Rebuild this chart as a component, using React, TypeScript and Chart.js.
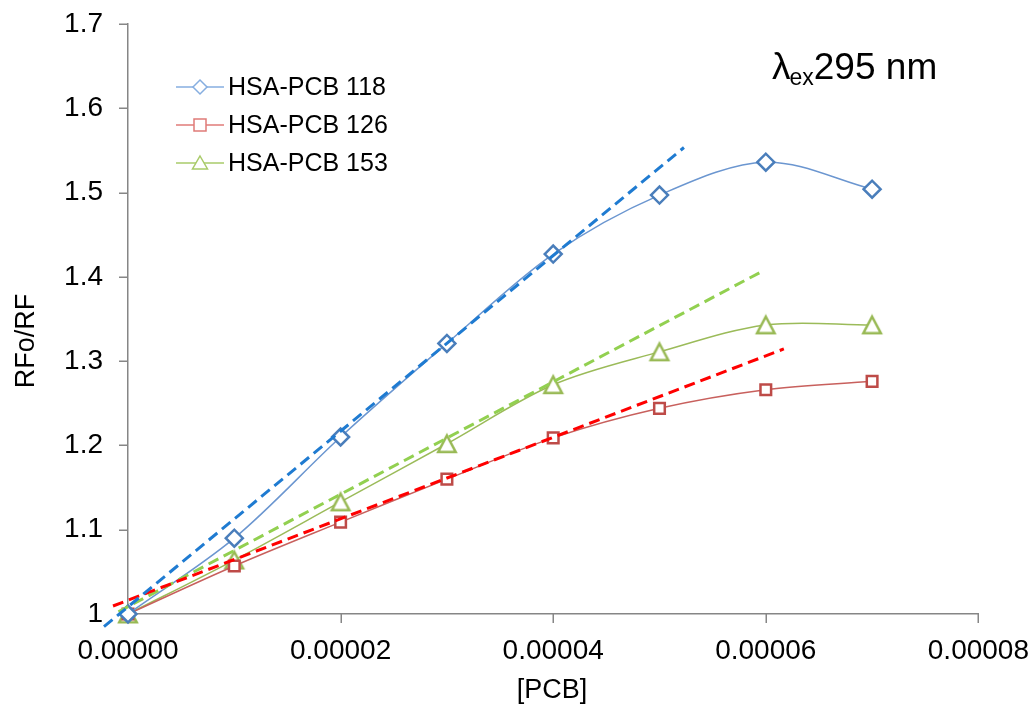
import React, { useEffect, useRef } from "react";
import { Chart, registerables } from "chart.js";

Chart.register(...registerables);

// ---- data ----
const X_VALUES = [0, 0.00001, 0.00002, 0.00003, 0.00004, 0.00005, 0.00006, 0.00007];
const PCB118 = [1.0, 1.09, 1.21, 1.321, 1.427, 1.497, 1.536, 1.504];
const PCB126 = [1.0, 1.057, 1.109, 1.16, 1.209, 1.244, 1.266, 1.276];
const PCB153 = [1.0, 1.064, 1.133, 1.202, 1.272, 1.311, 1.343, 1.343];

const TREND118_X = [-0.00000226, 0.0000523];
const TREND118_Y = [0.985, 1.5535];
const TREND126_X = [-0.00000141, 0.0000617];
const TREND126_Y = [1.0095, 1.3145];
const TREND153_X = [-0.0000009, 0.0000595];
const TREND153_Y = [1.0027, 1.4055];

const X_TICKS = [0, 0.00002, 0.00004, 0.00006, 0.00008];
const Y_TICKS = [1, 1.1, 1.2, 1.3, 1.4, 1.5, 1.6, 1.7];

const SERIES_NAMES = ["HSA-PCB 118", "HSA-PCB 126", "HSA-PCB 153"];
const X_TITLE = "[PCB]";
const Y_TITLE = "RFo/RF";

const FONT = '"Liberation Sans", Arial, sans-serif';
const AXIS_COLOR = "#868686";

function pts(xs: number[], ys: number[]) {
  return xs.map((x, i) => ({ x, y: ys[i] }));
}

function makeTriangle(w: number, h: number, lw: number, color: string) {
  const c = document.createElement("canvas");
  c.width = w + 4;
  c.height = h + 4;
  const ctx = c.getContext("2d")!;
  const ox = 2 + lw / 2;
  const oy = 2 + lw / 2;
  const iw = w - lw;
  const ih = h - lw;
  ctx.beginPath();
  ctx.moveTo(ox + iw / 2, oy);
  ctx.lineTo(ox + iw, oy + ih);
  ctx.lineTo(ox, oy + ih);
  ctx.closePath();
  ctx.fillStyle = "#ffffff";
  ctx.fill();
  ctx.lineWidth = lw;
  ctx.lineJoin = "miter";
  ctx.strokeStyle = color;
  ctx.stroke();
  return c;
}

const overlayPlugin = {
  id: "overlay",
  beforeDatasetsDraw(chart: any) {
    const ctx = chart.ctx as CanvasRenderingContext2D;
    const xs = chart.scales.x;
    const ys = chart.scales.y;
    const area = chart.chartArea;
    ctx.save();
    ctx.strokeStyle = AXIS_COLOR;
    ctx.lineWidth = 1.5;
    ctx.beginPath();
    X_TICKS.forEach((v) => {
      const px = Math.round(xs.getPixelForValue(v)) + 0.25;
      ctx.moveTo(px, area.bottom);
      ctx.lineTo(px, area.bottom + 9);
    });
    Y_TICKS.forEach((v) => {
      const py = Math.round(ys.getPixelForValue(v)) + 0.25;
      ctx.moveTo(area.left - 9, py);
      ctx.lineTo(area.left, py);
    });
    ctx.stroke();
    ctx.restore();
  },
  afterDraw(chart: any) {
    const ctx = chart.ctx as CanvasRenderingContext2D;
    ctx.save();
    ctx.fillStyle = "#000";
    // axis titles
    ctx.font = `27px ${FONT}`;
    ctx.textAlign = "center";
    ctx.textBaseline = "middle";
    ctx.fillText(X_TITLE, 552, 691);
    ctx.save();
    ctx.translate(27, 341);
    ctx.rotate(-Math.PI / 2);
    ctx.fillText(Y_TITLE, 0, 0);
    ctx.restore();

    // lambda label
    ctx.textAlign = "left";
    ctx.textBaseline = "alphabetic";
    ctx.font = `37px ${FONT}`;
    ctx.fillText("λ", 772, 79);
    const lw = ctx.measureText("λ").width;
    ctx.font = `23px ${FONT}`;
    ctx.fillText("ex", 772 + lw - 1, 85);
    const ew = ctx.measureText("ex").width;
    ctx.font = `37px ${FONT}`;
    ctx.fillText("295 nm", 772 + lw - 1 + ew, 79);

    // legend
    const rows = [87, 125, 163];
    const lineCols = ["#86AEE0", "#E07B78", "#A9CB6A"];
    rows.forEach((y, i) => {
      ctx.strokeStyle = lineCols[i];
      ctx.lineWidth = 1.5;
      ctx.beginPath();
      ctx.moveTo(176, y);
      ctx.lineTo(224, y);
      ctx.stroke();
      ctx.fillStyle = "#fff";
      ctx.beginPath();
      const cx = 200;
      if (i === 0) {
        ctx.moveTo(cx - 7, y);
        ctx.lineTo(cx, y - 7);
        ctx.lineTo(cx + 7, y);
        ctx.lineTo(cx, y + 7);
        ctx.closePath();
      } else if (i === 1) {
        ctx.rect(cx - 6, y - 6, 12, 12);
      } else {
        ctx.moveTo(cx, y - 7);
        ctx.lineTo(cx + 7.5, y + 6);
        ctx.lineTo(cx - 7.5, y + 6);
        ctx.closePath();
      }
      ctx.fill();
      ctx.stroke();
      ctx.fillStyle = "#000";
      ctx.font = `25px ${FONT}`;
      ctx.textBaseline = "middle";
      ctx.fillText(SERIES_NAMES[i], 228, y + 1);
    });
    ctx.restore();
  },
};

export default function App() {
  const ref = useRef<HTMLCanvasElement | null>(null);

  useEffect(() => {
    document.body.style.margin = "0";
    const canvas = ref.current;
    if (!canvas) return;
    const tri = makeTriangle(20, 19, 2.5, "#98B954");

    const dashed = (xs: number[], ys: number[], color: string) => ({
      data: pts(xs, ys),
      borderColor: color,
      borderWidth: 3,
      borderDash: [11, 6],
      pointRadius: 0,
      pointHoverRadius: 0,
      tension: 0,
      fill: false,
      clip: false,
    });

    const chart = new Chart(canvas, {
      type: "line",
      data: {
        datasets: [
          dashed(TREND118_X, TREND118_Y, "#1F7BD1"),
          dashed(TREND126_X, TREND126_Y, "#FF0000"),
          dashed(TREND153_X, TREND153_Y, "#92D050"),
          {
            label: SERIES_NAMES[0],
            data: pts(X_VALUES, PCB118),
            borderColor: "#6B96D0",
            borderWidth: 1.5,
            pointStyle: "rectRot",
            pointRadius: 8.5,
            pointBorderWidth: 2.5,
            pointBorderColor: "#4A7EBB",
            pointBackgroundColor: "#ffffff",
            tension: 0.33,
            fill: false,
            clip: false,
          },
          {
            label: SERIES_NAMES[1],
            data: pts(X_VALUES, PCB126),
            borderColor: "#C8605D",
            borderWidth: 1.5,
            pointStyle: "rect",
            pointRadius: 7.5,
            pointBorderWidth: 2.5,
            pointBorderColor: "#BE4B48",
            pointBackgroundColor: "#ffffff",
            tension: 0.33,
            fill: false,
            clip: false,
          },
          {
            label: SERIES_NAMES[2],
            data: pts(X_VALUES, PCB153),
            borderColor: "#9BBB59",
            borderWidth: 1.5,
            pointStyle: tri as any,
            pointRadius: 10,
            tension: 0.33,
            fill: false,
            clip: false,
          },
        ] as any,
      },
      options: {
        animation: false,
        responsive: false,
        maintainAspectRatio: false,
        layout: { padding: { top: 24, right: 50, left: 0, bottom: 0 } },
        plugins: {
          legend: { display: false },
          tooltip: { enabled: false },
          title: { display: false },
        },
        scales: {
          x: {
            type: "linear",
            min: 0,
            max: 0.00008,
            afterFit: (s: any) => {
              s.height = 92;
            },
            afterBuildTicks: (s: any) => {
              s.ticks = X_TICKS.map((v) => ({ value: v }));
            },
            ticks: {
              font: { family: FONT, size: 28 },
              color: "#000",
              padding: 0,
              maxRotation: 0,
              autoSkip: false,
              callback: (v: any) => Number(v).toFixed(5),
            },
            grid: {
              display: true,
              drawOnChartArea: false,
              drawTicks: true,
              tickLength: 20,
              tickColor: "rgba(0,0,0,0)",
              color: "rgba(0,0,0,0)",
            },
            border: { display: true, color: AXIS_COLOR, width: 1.5 },
          },
          y: {
            type: "linear",
            min: 1,
            max: 1.7,
            afterFit: (s: any) => {
              s.width = 128;
            },
            afterBuildTicks: (s: any) => {
              s.ticks = Y_TICKS.map((v) => ({ value: v }));
            },
            ticks: {
              font: { family: FONT, size: 28 },
              color: "#000",
              padding: 0,
              autoSkip: false,
              callback: (v: any) => String(Math.round(Number(v) * 10) / 10),
            },
            grid: {
              display: true,
              drawOnChartArea: false,
              drawTicks: true,
              tickLength: 25,
              tickColor: "rgba(0,0,0,0)",
              color: "rgba(0,0,0,0)",
            },
            border: { display: true, color: AXIS_COLOR, width: 1.5 },
          },
        },
      },
      plugins: [overlayPlugin],
    });

    return () => {
      chart.destroy();
    };
  }, []);

  return (
    <div style={{ width: 1029, height: 706, background: "#fff" }}>
      <canvas ref={ref} width={1029} height={706} style={{ display: "block" }} />
    </div>
  );
}
